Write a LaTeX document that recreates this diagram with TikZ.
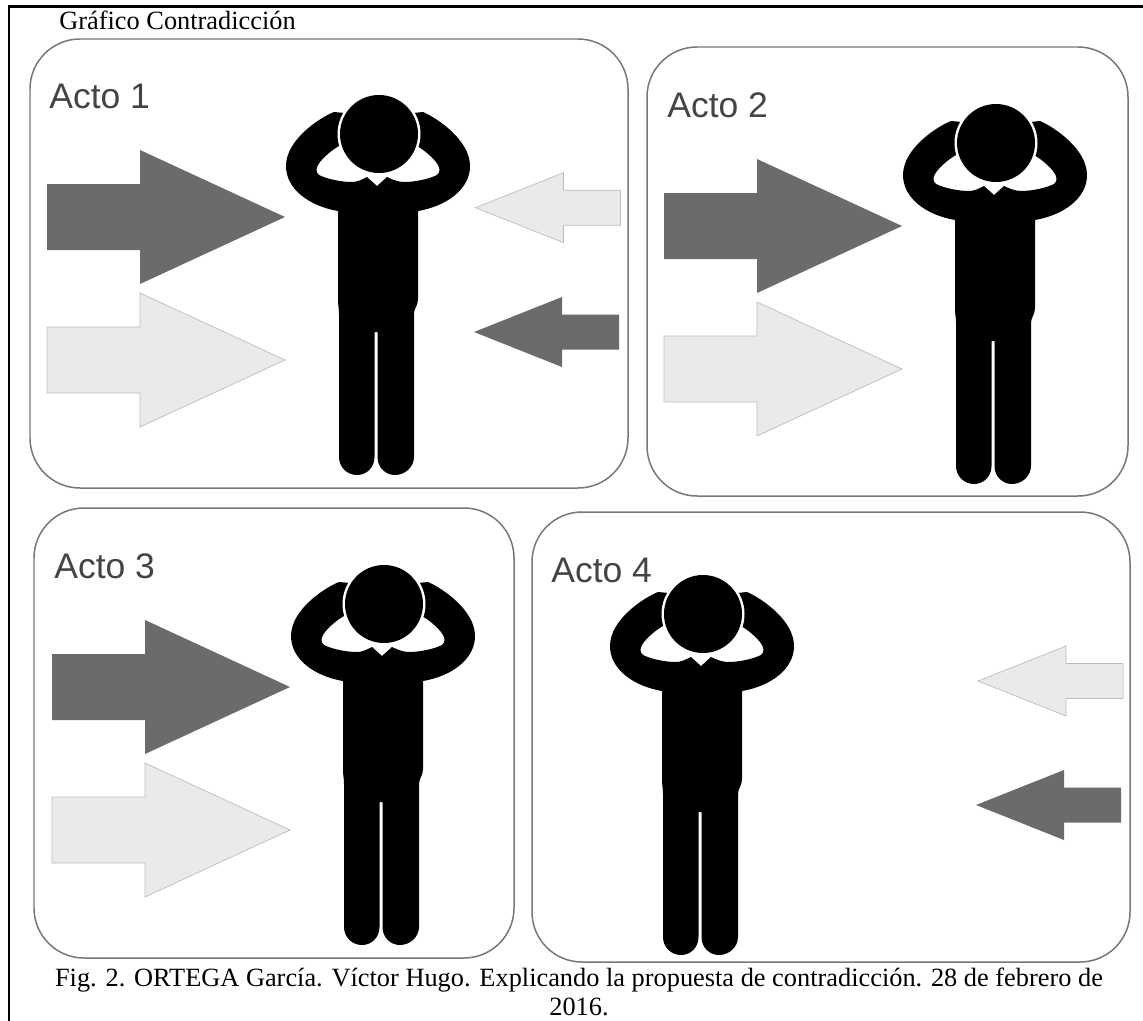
\documentclass[tikz,border=0pt]{standalone}
\usepackage{fontspec}
\setmainfont{Liberation Serif}
\newfontfamily\actofont{Liberation Sans}
\definecolor{arrowdark}{HTML}{6B6B6B}
\definecolor{arrowlight}{HTML}{EAEAEA}
\definecolor{arrowedge}{HTML}{BDBDBD}
\definecolor{boxedge}{HTML}{777777}
\definecolor{actotext}{HTML}{444444}
\tikzset{
  actobox/.style={draw=boxedge, line width=0.85pt, fill=white, rounded corners=1cm},
  actolabel/.style={anchor=base west, inner sep=0, font=\actofont\fontsize{20.2}{24}\selectfont, text=actotext},
  captiontext/.style={anchor=base, inner sep=0, font=\fontsize{15}{18}\selectfont},
  darkarrow/.style={fill=arrowdark},
  lightarrow/.style={fill=arrowlight, draw=arrowedge, line width=0.4pt},
  pics/bigarrow/.style={code={
    \path[#1] (0,0) -- (-145,-67) -- (-145,-33) -- (-238,-33) -- (-238,33) -- (-145,33) -- (-145,67) -- cycle;
  }},
  pics/smallarrow/.style={code={
    \path[#1] (0,0) -- (88,-35) -- (88,-17.5) -- (145,-17.5) -- (145,17.5) -- (88,17.5) -- (88,35) -- cycle;
  }},
  pics/person/.style={code={
    \fill[black] (-2,52) -- (-12,43) .. controls (-18,46) and (-22,48) .. (-27,48)
      .. controls (-38,48) and (-52,45) .. (-60,41)
      .. controls (-64,38) and (-63,33) .. (-59,28)
      .. controls (-54,22) and (-47,16) .. (-40,12) -- (-20,0) -- (-34,-21) -- (-45,-22)
      .. controls (-60,-16) and (-93,6) .. (-93,32)
      .. controls (-93,55) and (-70,72) .. (-41,77) -- (-41,165)
      .. controls (-41,172) and (-40,174) .. (-40,180) -- (-40,323)
      .. controls (-40,333) and (-32,341) .. (-22,341)
      .. controls (-12,341) and (-4.5,333) .. (-4.5,323) -- (-4.5,198) -- (-1.5,198) -- (-1.5,323)
      .. controls (-1.5,333) and (6,341) .. (16,341)
      .. controls (26,341) and (35,333) .. (35,323) -- (35,180)
      .. controls (35,174) and (39,172) .. (39,165) -- (39,77)
      .. controls (68,72) and (91,55) .. (91,32)
      .. controls (91,6) and (58,-16) .. (44,-22) -- (34,-21) -- (20,0) -- (38,12)
      .. controls (45,16) and (52,22) .. (57,28)
      .. controls (61,33) and (62,38) .. (58,41)
      .. controls (50,45) and (36,48) .. (25,48)
      .. controls (20,48) and (14,46) .. (8,43) -- cycle;
    \fill[white] (0,0) circle (41.5);
    \fill[black] (0,0) circle (39);
  }}
}
\begin{document}
\begin{tikzpicture}[x=0.02cm, y=-0.02cm]
\useasboundingbox (0,0) rectangle (1143,1021);
\draw[line width=1.2pt] (9,1021) -- (9,6.5) -- (1143,6.5);
\node[captiontext, anchor=base west] (titulo) at (59,30) {Gráfico Contradicción};

\draw[actobox] (30,39) rectangle (628,488);
\draw[actobox] (647,47) rectangle (1128,496);
\draw[actobox] (34,508) rectangle (514,958);
\draw[actobox] (532,512) rectangle (1130,962);

\node[actolabel] (actoA) at (49,108) {Acto 1};
\node[actolabel] (actoB) at (667,117) {Acto 2};
\node[actolabel] (actoC) at (54,578) {Acto 3};
\node[actolabel] (actoD) at (551,582) {Acto 4};

\pic at (379,134) {person};
\pic at (996,143) {person};
\pic at (384,604) {person};
\pic at (703,614) {person};

\pic at (285,217) {bigarrow=darkarrow};
\pic at (285,360) {bigarrow=lightarrow};
\pic at (475.5,207.7) {smallarrow=lightarrow};
\pic at (474,332) {smallarrow=darkarrow};

\pic at (902,226) {bigarrow=darkarrow};
\pic at (902,369) {bigarrow=lightarrow};

\pic at (290,687) {bigarrow=darkarrow};
\pic at (290,830) {bigarrow=lightarrow};

\pic at (978,681) {smallarrow=lightarrow};
\pic at (976,805) {smallarrow=darkarrow};

\node[captiontext] (pieA) at (579,986) {Fig. 2. ORTEGA García. Víctor Hugo. Explicando la propuesta de contradicción. 28 de febrero de};
\node[captiontext] (pieB) at (579,1015) {2016.};
\end{tikzpicture}
\end{document}
